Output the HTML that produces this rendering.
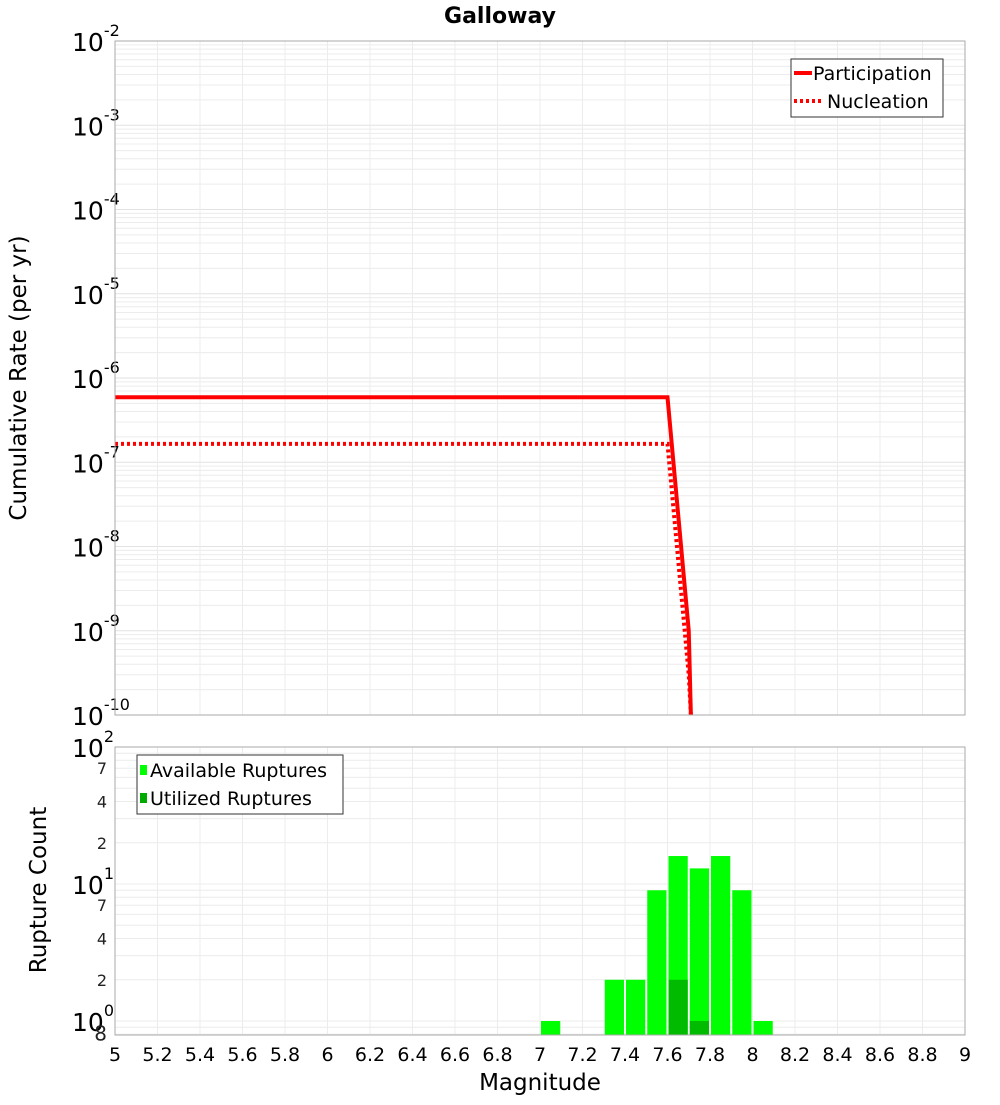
<!DOCTYPE html>
<html><head><meta charset="utf-8"><style>
body{margin:0;background:#fff;font-family:"Liberation Sans","DejaVu Sans",sans-serif}
svg text{font-family:"DejaVu Sans","Liberation Sans",sans-serif}
</style></head><body>
<svg id="c" width="1000" height="1100" xmlns="http://www.w3.org/2000/svg">
<text x="500" y="23" text-anchor="middle" font-size="22" font-weight="bold">Galloway</text>
<text transform="translate(26,378) rotate(-90)" text-anchor="middle" font-size="23">Cumulative Rate (per yr)</text>
<text transform="translate(46,890) rotate(-90)" text-anchor="middle" font-size="23">Rupture Count</text>
<text x="540" y="1090" text-anchor="middle" font-size="23">Magnitude</text>
<g id="g"></g>
</svg>
<script>
const partM=[5,7.6,7.7,7.71];
const partR=[5.9e-7,5.9e-7,1e-9,1e-11];
const nuclM=[5,7.6,7.7,7.71];
const nuclR=[1.65e-7,1.65e-7,3e-10,1e-11];
const barM=[7.0,7.3,7.4,7.5,7.6,7.7,7.8,7.9,8.0];
const availCount=[1,2,2,9,16,13,16,9,1];
const usedM=[7.6,7.7];
const usedCount=[2,1];
const xTicks=[5,5.2,5.4,5.6,5.8,6,6.2,6.4,6.6,6.8,7,7.2,7.4,7.6,7.8,8,8.2,8.4,8.6,8.8,9];

const NS='http://www.w3.org/2000/svg';
const g=document.getElementById('g');
function mk(t,a,p){const e=document.createElementNS(NS,t);for(const k in a)e.setAttribute(k,a[k]);(p||g).appendChild(e);return e;}
const X0=115,X1=965;
const x=m=>X0+(m-5)/4*(X1-X0);
const T0=41,T1=715;
const yT=v=>T0+(-2-Math.log10(v))/8*(T1-T0);
const B0=747,B1=1035;
const D=137;
const yB=v=>B0+(2-Math.log10(v))*D;

for(let d=-10;d<-2;d++)for(let k=1;k<10;k++){const yy=yT(k*Math.pow(10,d));
 const l=mk('line',{x1:X0,x2:X1,y1:yy,y2:yy,stroke:k==1?'#e2e2e2':'#ececec','stroke-width':1});
 }
for(let d=-1;d<2;d++)for(let k=1;k<10;k++){const v=k*Math.pow(10,d);if(v<0.8)continue;const yy=yB(v);
 const l=mk('line',{x1:X0,x2:X1,y1:yy,y2:yy,stroke:'#ececec','stroke-width':1});
 }
xTicks.forEach(m=>{
 const l1=mk('line',{x1:x(m),x2:x(m),y1:T0,y2:T1,stroke:'#ececec'});
 
 const l2=mk('line',{x1:x(m),x2:x(m),y1:B0,y2:B1,stroke:'#ececec'});
 
 const t=mk('text',{x:x(m),y:1061,'text-anchor':'middle','font-size':19});t.textContent=String(m);
 
});
for(let d=-2;d>=-10;d--){const yy=yT(Math.pow(10,d));
 const t=mk('text',{x:72,y:yy+10,'font-size':25});t.textContent='10';
 
 const s=mk('tspan',{dy:-15,'font-size':16},t);s.textContent=String(d);}
[[100,'2'],[10,'1'],[1,'0']].forEach(([v,e])=>{const yy=yB(v);
 const t=mk('text',{x:72,y:yy+10,'font-size':25});t.textContent='10';
 
 const s=mk('tspan',{dy:-15,'font-size':16},t);s.textContent=e;});
[70,40,20,7,4,2,0.8].forEach(v=>{const t=mk('text',{x:107,y:yB(v)+6,'text-anchor':'end','font-size':v==0.8?20:16,fill:'#222'});
 t.textContent=String(v>=10?v/10:(v==0.8?8:v));
 });
function path(M,R){return M.map((m,i)=>(i?'L':'M')+x(m)+','+Math.min(yT(R[i]),T1)).join(' ');}
const cp=mk('clipPath',{id:'cl'});mk('rect',{x:X0,y:T0,width:X1-X0,height:T1-T0},cp);
const p1=mk('path',{d:path(partM,partR),fill:'none',stroke:'#ff0000','stroke-width':4,'clip-path':'url(#cl)'});

const p2=mk('path',{d:path(nuclM,nuclR),fill:'none',stroke:'#ff0000','stroke-width':4,'stroke-dasharray':'3,3','clip-path':'url(#cl)'});

barM.forEach((m,i)=>{const r=mk('rect',{x:x(m)+1,y:yB(availCount[i]),width:x(m+0.1)-x(m)-2,height:B1-yB(availCount[i]),fill:'#00ff00'});
 });
usedM.forEach((m,i)=>{const r=mk('rect',{x:x(m)+1,y:yB(usedCount[i]),width:x(m+0.1)-x(m)-2,height:B1-yB(usedCount[i]),fill:'#00bb00'});
 });
const f1=mk('rect',{x:X0,y:T0,width:X1-X0,height:T1-T0,fill:'none',stroke:'#aaa'});

const f2=mk('rect',{x:X0,y:B0,width:X1-X0,height:B1-B0,fill:'none',stroke:'#aaa'});

const lg=mk('g',{});
mk('rect',{x:791,y:59,width:152,height:58,fill:'#fff',stroke:'#333'},lg);
mk('line',{x1:794,x2:812,y1:73,y2:73,stroke:'#f00','stroke-width':4},lg);
mk('line',{x1:794,x2:822,y1:101,y2:101,stroke:'#f00','stroke-width':4,'stroke-dasharray':'3,3'},lg);
let t=mk('text',{x:813,y:80,'font-size':19},lg);t.textContent='Participation';
t=mk('text',{x:827,y:108,'font-size':19},lg);t.textContent='Nucleation';
const lb=mk('g',{});
mk('rect',{x:137,y:755,width:206,height:59,fill:'#fff',stroke:'#333'},lb);
mk('rect',{x:140,y:765,width:7,height:10,fill:'#00ff00'},lb);
mk('rect',{x:140,y:793,width:7,height:10,fill:'#00aa00'},lb);
t=mk('text',{x:150,y:777,'font-size':19},lb);t.textContent='Available Ruptures';
t=mk('text',{x:150,y:805,'font-size':19},lb);t.textContent='Utilized Ruptures';
</script>
</body></html>
